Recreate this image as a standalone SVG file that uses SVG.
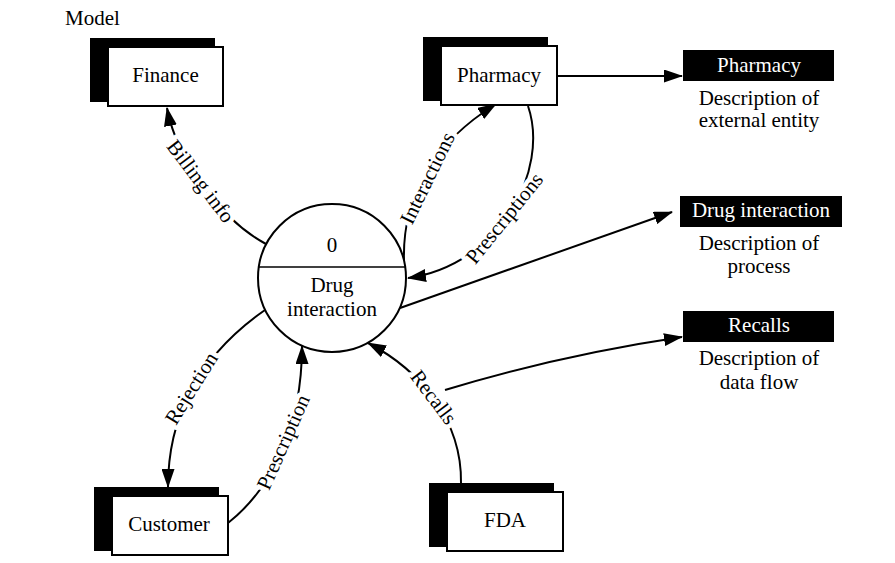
<svg xmlns="http://www.w3.org/2000/svg" width="895" height="563" viewBox="0 0 895 563">
  <style>
    text { font-family: "Liberation Serif", "Times New Roman", serif; font-size: 21px; fill: #000; }
    .mid { text-anchor: middle; }
    .inv { fill: #fff; }
    .shadow { fill: #000; }
    .front { fill: #fff; stroke: #000; stroke-width: 2; }
    .flow { fill: none; stroke: #000; stroke-width: 2; }
    .lbl { text-anchor: middle; stroke: #fff; stroke-width: 9; stroke-linejoin: round; paint-order: stroke; }
  </style>
  <defs>
    <marker id="arrow" viewBox="0 0 19 13" refX="18" refY="6.5" markerWidth="19" markerHeight="13" markerUnits="userSpaceOnUse" orient="auto">
      <path d="M0,0 L19,6.5 L0,13 z" fill="#000"/>
    </marker>
  </defs>

  <text x="65" y="25">Model</text>

  <!-- connectors (drawn first so labels sit on top) -->
  <g id="connectors">
    <path class="flow" d="M 266,244 C 225,222 178,165 167,108" marker-end="url(#arrow)"/>
    <path class="flow" d="M 404,262 C 402,200 430,145 496,104" marker-end="url(#arrow)"/>
    <path class="flow" d="M 528,106 C 550,170 500,265 408,278" marker-end="url(#arrow)"/>
    <path class="flow" d="M 265,310 C 215,345 168,400 168,487" marker-end="url(#arrow)"/>
    <path class="flow" d="M 228,523 C 270,490 302,430 302,346" marker-end="url(#arrow)"/>
    <path class="flow" d="M 461,483 C 462,420 420,370 368,343" marker-end="url(#arrow)"/>
    <path class="flow" d="M 557,76 L 682,76" marker-end="url(#arrow)"/>
    <path class="flow" d="M 400,308 L 672,212" marker-end="url(#arrow)"/>
    <path class="flow" d="M 445,390 Q 560,355 682,337" marker-end="url(#arrow)"/>

    <text class="lbl" transform="translate(201,181) rotate(53)" dy="0.35em">Billing info</text>
    <text class="lbl" transform="translate(427,178) rotate(-64)" dy="0.35em">Interactions</text>
    <text class="lbl" transform="translate(504,218) rotate(-51)" dy="0.35em">Prescriptions</text>
    <text class="lbl" transform="translate(191,388) rotate(-58)" dy="0.35em">Rejection</text>
    <text class="lbl" transform="translate(283,442) rotate(-66)" dy="0.35em">Prescription</text>
    <text class="lbl" transform="translate(434,397) rotate(53)" dy="0.35em">Recalls</text>
  </g>

  <!-- external entities -->
  <g id="finance">
    <rect class="shadow" x="90" y="38" width="125" height="64"/>
    <rect class="front" x="108" y="47" width="115" height="59"/>
    <text class="mid" x="165.5" y="82">Finance</text>
  </g>
  <g id="pharmacy">
    <rect class="shadow" x="423" y="37" width="125" height="64"/>
    <rect class="front" x="441" y="46" width="116" height="59"/>
    <text class="mid" x="499" y="82">Pharmacy</text>
  </g>
  <g id="customer">
    <rect class="shadow" x="94" y="487" width="125" height="64"/>
    <rect class="front" x="112" y="496" width="116" height="59"/>
    <text class="mid" x="169" y="531">Customer</text>
  </g>
  <g id="fda">
    <rect class="shadow" x="429" y="483" width="125" height="64"/>
    <rect class="front" x="447" y="492" width="116" height="59"/>
    <text class="mid" x="505" y="527">FDA</text>
  </g>

  <!-- process -->
  <g id="process-0">
    <circle cx="332" cy="278" r="74" fill="#fff" stroke="#000" stroke-width="2"/>
    <line x1="259" y1="267" x2="405" y2="267" stroke="#000" stroke-width="1.5"/>
    <text class="mid" x="332" y="252">0</text>
    <text class="mid" x="332" y="292">Drug</text>
    <text class="mid" x="332" y="316">interaction</text>
  </g>

  <!-- legend -->
  <g id="legend-entity">
    <rect x="683" y="50" width="151" height="31" fill="#000"/>
    <text class="mid inv" x="759" y="72">Pharmacy</text>
    <text class="mid" x="759" y="105">Description of</text>
    <text class="mid" x="759" y="127">external entity</text>
  </g>
  <g id="legend-process">
    <rect x="680" y="196" width="162" height="31" fill="#000"/>
    <text class="mid inv" x="761" y="217">Drug interaction</text>
    <text class="mid" x="759" y="250">Description of</text>
    <text class="mid" x="759" y="273">process</text>
  </g>
  <g id="legend-flow">
    <rect x="683" y="311" width="151" height="31" fill="#000"/>
    <text class="mid inv" x="759" y="332">Recalls</text>
    <text class="mid" x="759" y="365">Description of</text>
    <text class="mid" x="759" y="389">data flow</text>
  </g>
</svg>
